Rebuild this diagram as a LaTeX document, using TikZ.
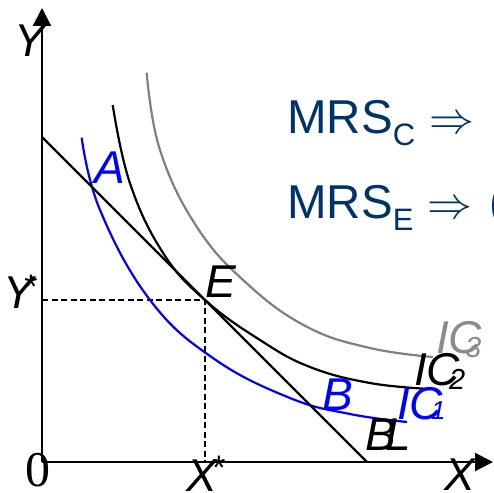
\documentclass[tikz,border=0pt]{standalone}
\usepackage{fontspec}
\setmainfont{Liberation Sans}
\newfontfamily\serifzero{Liberation Serif}
\usetikzlibrary{arrows.meta}
\definecolor{mrsblue}{RGB}{0,51,102}
\definecolor{icgray}{RGB}{128,128,128}
\definecolor{labgray}{RGB}{140,140,140}
\newcommand{\bigimpl}{{\fontsize{20.74}{24}\selectfont\scalebox{2.17}{$\Rightarrow$}}}
\begin{document}
\begin{tikzpicture}[x=1pt,y=-1pt,
  axis/.style={line width=2.2pt, -{Triangle[length=18pt,width=18pt]}},
  curve/.style={line width=2.2pt, smooth, tension=0.7},
  guide/.style={line width=2pt, dash pattern=on 6pt off 3.5pt},
  lab/.style={inner sep=0pt, anchor=base west, font=\fontsize{46}{55}\selectfont\itshape},
  mrs/.style={inner sep=0pt, anchor=base west, text=mrsblue, font=\fontsize{47.5}{56}\selectfont},
]
\useasboundingbox (0,0) rectangle (494,492);
\clip (0,0) rectangle (494,492);
\fill[white] (0,0) rectangle (494,492);
% key points
\coordinate (O) at (42,462);
\coordinate (Ytop) at (42,8);
\coordinate (Xend) at (493,462);
\coordinate (L1) at (42,137);
\coordinate (L2) at (367,462);
\coordinate (E) at (205,300);
\coordinate (Ystar) at (42,300);
\coordinate (Xstar) at (205,462);
% axes
\draw[axis] (O) -- (Ytop);
\draw[axis] (O) -- (Xend);
% guides
\draw[guide] (Ystar) -- (E) -- (Xstar);
% indifference curves
\draw[curve, icgray] plot coordinates {(146.7,72.7) (160,150) (196.7,226.7) (246.7,283.3) (306.7,326.7) (370,348) (433,357)};
\draw[curve, black] plot coordinates {(112.7,105) (130,183.3) (163.3,253.3) (205,300) (260,340) (310,367) (370,383) (430,389)};
\draw[curve, blue] plot coordinates {(81.7,137.7) (100,210) (150,300) (213.3,358.3) (290,398) (350,414) (407,422)};
% budget line
\draw[line width=2.2pt] (L1) -- (L2);
% labels
\node[lab] (Ylab) at (14,57) {Y};
\node[lab] (Ystarlab) at (3,308) {Y\kern-11pt\raisebox{10pt}{\fontsize{34}{36}\selectfont *}};
\node[lab] (Xlab) at (444,490) {X};
\node[lab] (Xstarlab) at (186,491) {X\kern-6pt\raisebox{12pt}{\fontsize{34}{36}\selectfont *}};
\node[inner sep=0pt, anchor=base, font=\fontsize{50}{55}\serifzero] (zero) at (38.3,486) {0};
\node[lab, text=blue] (Alab) at (94,183) {A};
\node[lab] (Elab) at (205,297) {E};
\node[lab, text=blue] (Blab) at (322,410) {B};
\node[lab] (BLlab) at (365,450) {B\kern-10pt L};
\node[lab, text=blue] (IC1lab) at (397,419) {IC\kern-12pt{\fontsize{26}{28}\selectfont 1}};
\node[lab] (IC2lab) at (414,385) {IC\kern-11pt\raisebox{-4pt}{\fontsize{29}{30}\selectfont 2}};
\node[lab, text=labgray] (IC3lab) at (436,353) {IC\kern-17pt\raisebox{-4pt}{\fontsize{29}{30}\selectfont 3}};
% MRS texts
\node[mrs] (mrsC) at (287,133) {MRS\raisebox{-12pt}{\fontsize{31}{33}\selectfont C}\hspace{14pt}\bigimpl\hspace{21pt}m};
\node[mrs] (mrsE) at (287,218) {MRS\raisebox{-12pt}{\fontsize{31}{33}\selectfont E}\hspace{14pt}\bigimpl\hspace{17pt}(};
\end{tikzpicture}
\end{document}
